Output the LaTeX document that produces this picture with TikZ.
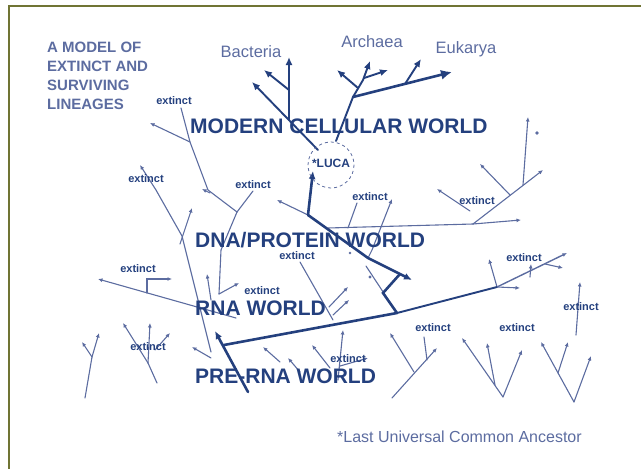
\documentclass[tikz,border=0pt]{standalone}
\usepackage{fontspec}
\setmainfont{Liberation Sans}
\usetikzlibrary{arrows.meta}
\definecolor{deepblue}{RGB}{36,64,126}
\definecolor{paleblue}{RGB}{92,108,160}
\definecolor{olivegreen}{RGB}{112,116,52}

\begin{document}
\begin{tikzpicture}[x=1pt,y=1pt,yscale=-1,
  trunk/.style={deepblue,line width=2.6,line cap=round},
  bough/.style={deepblue,line width=1.9,line cap=round},
  twig/.style={paleblue,line width=1.1,line cap=round},
  boughtip/.style={-{Latex[length=8,width=7]}},
  bigtip/.style={-{Latex[length=11,width=10]}},
  twigtip/.style={-{Latex[length=4.5,width=4]}},
  world/.style={deepblue,font=\bfseries\fontsize{21}{21}\selectfont,inner sep=0,anchor=base west},
  kingdom/.style={paleblue,font=\fontsize{16.5}{16.5}\selectfont,inner sep=0,anchor=base},
  gone/.style={deepblue,font=\bfseries\fontsize{11}{11}\selectfont,inner sep=0},
]
\useasboundingbox (0,0) rectangle (641,469);
\draw[olivegreen,line width=1.6] (9,469) -- (9,6) -- (641,6);

\coordinate (root) at (248,392);
\coordinate (rnaknot) at (224,345);
\coordinate (split) at (397,313);
\coordinate (fork) at (383,293);
\coordinate (dnaknot) at (368,258);
\coordinate (lucaknot) at (308,215);
\coordinate (eastknot) at (497,287);
\coordinate (bactknot) at (318,150);
\coordinate (archknot) at (336,141);
\coordinate (eukknot) at (353,97);
\coordinate (dnaline) at (328,228);
\coordinate (eastfork) at (473,224);

% thin lineages
\draw[twig,twigtip] (190,142) -- (150,123);
\draw[twig] (181,108) -- (190,142) -- (208,190) -- (237,212) -- (253,191);
\draw[twig] (237,212) -- (221,250) -- (219,294);
\draw[twig,twigtip] (210,193) -- (202,189);
\draw[twig,twigtip] (219,294) -- (239,283);
\draw[twig,twigtip] (156,190) -- (140,165);
\draw[twig] (156,190) -- (182,236) -- (211,352);
\draw[twig,twigtip] (180,244) -- (192,208);
\draw[twig,twigtip] (236,318) -- (98,279);
\draw[twig,twigtip] (147,293) -- (147,279) -- (172,279);
\draw[twig,twigtip] (211,300) -- (207,274);
\draw[twig,twigtip] (lucaknot) -- (277,200);
\draw[twig] (dnaline) -- (eastfork);
\draw[twig,twigtip] (eastfork) -- (521,220);
\draw[twig,twigtip] (eastfork) -- (543,170);
\draw[twig,twigtip] (510,195) -- (480,164);
\draw[twig,twigtip] (523,185) -- (528,117);
\fill[paleblue] (537,133) circle (1.8);
\draw[twig,twigtip] (470,211) -- (437,189);
\draw[twig] (357,203) -- (348,228);
\draw[twig,twigtip] (dnaknot) -- (372,250) -- (392,199);
\draw[twig] (300,262) -- (333,320);
\draw[twig,twigtip] (329,307) -- (348,287);
\draw[twig,twigtip] (333,315) -- (349,300);
\draw[twig] (366,266) -- (395,310);
\fill[paleblue] (370,277) circle (1.6);
\fill[paleblue] (350,253) circle (1.4);
\draw[twig,twigtip] (eastknot) -- (489,259);
\draw[twig,twigtip] (530,277) -- (531,264);
\draw[twig,twigtip] (545,264) -- (563,268);
\draw[twig,twigtip] (eastknot) -- (520,288);
% bottom trees
\draw[twig] (85,398) -- (92,357);
\draw[twig,twigtip] (92,357) -- (82,342);
\draw[twig,twigtip] (92,357) -- (99,333);
\draw[twig] (157,383) -- (148,363);
\draw[twig,twigtip] (148,363) -- (123,323);
\draw[twig,twigtip] (148,363) -- (150,323);
\draw[twig,twigtip] (155,350) -- (170,333);
\draw[twig,twigtip] (211,358) -- (192,347);
\draw[twig,twigtip] (338,380) -- (343,330);
\draw[twig,twigtip] (330,368) -- (312,345);
\draw[twig,twigtip] (300,372) -- (288,358);
\draw[twig,twigtip] (280,362) -- (263,347);
\draw[twig,twigtip] (340,366) -- (368,358);
\draw[twig,twigtip] (392,398) -- (437,348);
\draw[twig,twigtip] (414,372) -- (390,333);
\draw[twig] (424,337) -- (427,360);
\draw[twig,twigtip] (503,397) -- (462,338);
\draw[twig,twigtip] (495,385) -- (487,343);
\draw[twig,twigtip] (503,397) -- (522,350);
\draw[twig,twigtip] (574,402) -- (541,342);
\draw[twig,twigtip] (558,373) -- (568,342);
\draw[twig,twigtip] (574,402) -- (591,356);
\draw[twig,twigtip] (576,335) -- (580,282);

% surviving lineage
\draw[trunk,boughtip] (root) -- (215,331);
\draw[trunk] (rnaknot) -- (split);
\draw[bough] (split) -- (eastknot);
\draw[paleblue,line width=1.4,twigtip] (eastknot) -- (567,253);
\draw[trunk] (split) -- (fork) -- (400,274);
\draw[trunk,boughtip] (lucaknot) -- (dnaknot) -- (412,280);
\draw[trunk,boughtip] (lucaknot) -- (313,171);
\draw[bough,boughtip] (bactknot) -- (252,82);
\draw[bough,boughtip] (289,120) -- (289,57);
\draw[bough,boughtip] (289,90) -- (264,70);
\draw[bough] (archknot) -- (eukknot);
\draw[trunk,bigtip] (eukknot) -- (452,72);
\draw[bough,boughtip] (eukknot) -- (363,80) -- (370,61);
\draw[bough,boughtip] (358,88) -- (337,70);
\draw[bough,boughtip] (364,78) -- (388,70);
\draw[bough,boughtip] (405,84) -- (421,59);

\draw[paleblue,dashed,line width=0.8] (331,165) circle (23);
\node[deepblue,font=\bfseries\fontsize{12}{12}\selectfont,inner sep=0] (luca) at (331,163) {*LUCA};

\node[paleblue,font=\bfseries\fontsize{15}{19}\selectfont,align=left,inner sep=0,anchor=north west] (title) at (47,42) {A MODEL OF\\EXTINCT AND\\SURVIVING\\LINEAGES};
\node[kingdom] (bacteria) at (251,57) {Bacteria};
\node[kingdom] (archaea) at (372,47) {Archaea};
\node[kingdom] (eukarya) at (466,53) {Eukarya};
\node[world] (modern) at (190,133) {MODERN CELLULAR WORLD};
\node[world] (dnaworld) at (195,247) {DNA/PROTEIN WORLD};
\node[world] (rnaworld) at (195,315) {RNA WORLD};
\node[world] (prerna) at (195,383) {PRE-RNA WORLD};
\node[paleblue,font=\fontsize{16}{16}\selectfont,inner sep=0,anchor=base west] (note) at (337,442) {*Last Universal Common Ancestor};

\node[gone] (gone1) at (174,101) {extinct};
\node[gone] (gone2) at (146,179) {extinct};
\node[gone] (gone3) at (253,185) {extinct};
\node[gone] (gone4) at (370,197) {extinct};
\node[gone] (gone5) at (477,201) {extinct};
\node[gone] (gone6) at (297,256) {extinct};
\node[gone] (gone7) at (138,269) {extinct};
\node[gone] (gone8) at (262,291) {extinct};
\node[gone] (gone9) at (148,347) {extinct};
\node[gone] (gone10) at (348,359) {extinct};
\node[gone] (gone11) at (433,328) {extinct};
\node[gone] (gone12) at (517,328) {extinct};
\node[gone] (gone13) at (524,258) {extinct};
\node[gone] (gone14) at (581,307) {extinct};
\end{tikzpicture}
\end{document}
